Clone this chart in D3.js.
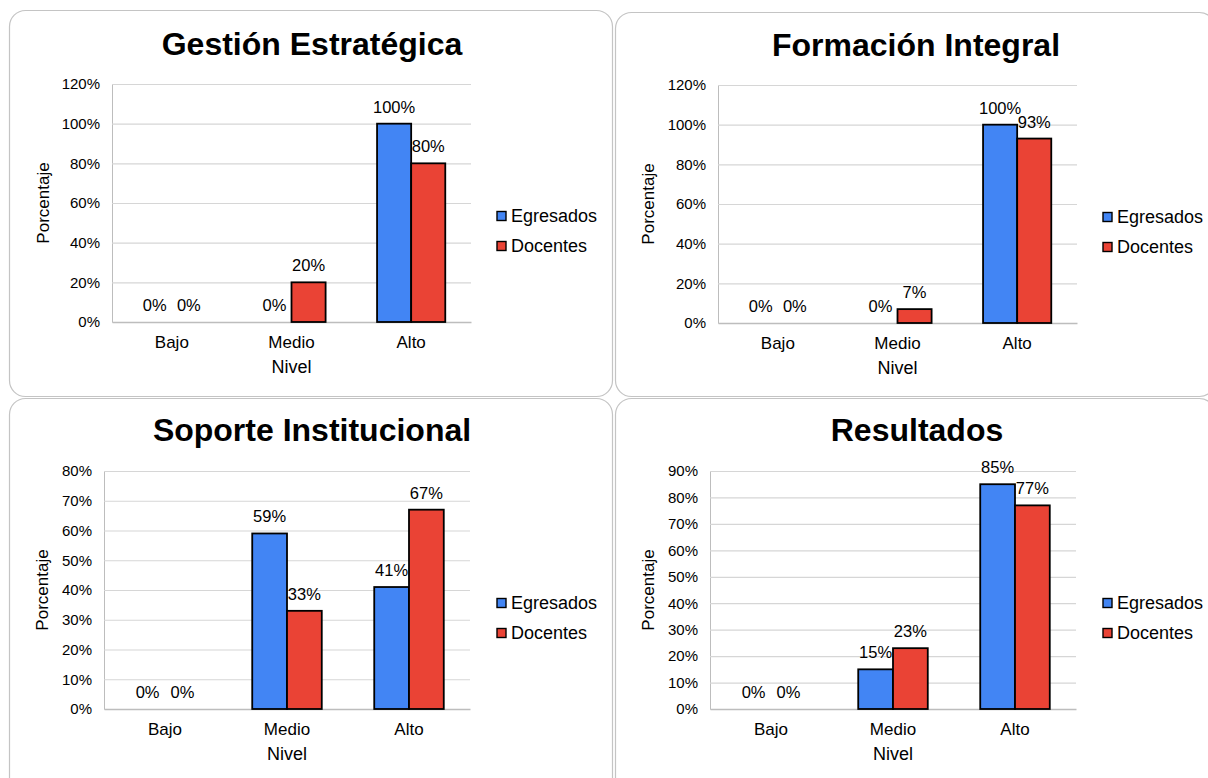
<!DOCTYPE html>
<html>
<head>
<meta charset="utf-8">
<script src="https://cdn.jsdelivr.net/npm/d3@7"></script>
<style>
  html, body { margin: 0; padding: 0; background: #fff; }
  svg { display: block; font-family: "Liberation Sans", Arial, sans-serif; }
</style>
</head>
<body>
<svg id="chart" width="1208" height="778"></svg>
<script>
// ---------- data ----------
const categories = ["Bajo", "Medio", "Alto"];
const seriesNames = ["Egresados", "Docentes"];
const chartTitles = ["Gestión Estratégica", "Formación Integral", "Soporte Institucional", "Resultados"];

const gestionEgresados = [0, 0, 100];
const gestionDocentes = [0, 20, 80];
const formacionEgresados = [0, 0, 100];
const formacionDocentes = [0, 7, 93];
const soporteEgresados = [0, 59, 41];
const soporteDocentes = [0, 33, 67];
const resultadosEgresados = [0, 15, 85];
const resultadosDocentes = [0, 23, 77];

const ticksGestion = [0, 20, 40, 60, 80, 100, 120];
const ticksFormacion = [0, 20, 40, 60, 80, 100, 120];
const ticksSoporte = [0, 10, 20, 30, 40, 50, 60, 70, 80];
const ticksResultados = [0, 10, 20, 30, 40, 50, 60, 70, 80, 90];

const xAxisTitle = "Nivel";
const yAxisTitle = "Porcentaje";

// ---------- layout (positions only) ----------
const layouts = [
  { border: [9.5, 10.5, 603, 386], plot: { l: 112, r: 471, t: 84, b: 322 }, title: [312, 55], legend: [497, 216], ylab: 43 },
  { border: [615.5, 12.5, 600, 384], plot: { l: 718, r: 1077, t: 85, b: 323 }, title: [916, 56], legend: [1103, 217], ylab: 648 },
  { border: [9.5, 398.5, 603, 400], plot: { l: 104, r: 470, t: 471, b: 709 }, title: [312, 441], legend: [497, 603], ylab: 42 },
  { border: [615.5, 398.5, 600, 400], plot: { l: 710, r: 1076, t: 471, b: 709 }, title: [917, 441], legend: [1103, 603], ylab: 648 }
];

const charts = [
  { title: chartTitles[0], values: [gestionEgresados, gestionDocentes], ticks: ticksGestion },
  { title: chartTitles[1], values: [formacionEgresados, formacionDocentes], ticks: ticksFormacion },
  { title: chartTitles[2], values: [soporteEgresados, soporteDocentes], ticks: ticksSoporte },
  { title: chartTitles[3], values: [resultadosEgresados, resultadosDocentes], ticks: ticksResultados }
];

const colors = ["#4285f4", "#ea4335"];
const color = d3.scaleOrdinal().domain(seriesNames).range(colors);

const svg = d3.select("#chart");

charts.forEach((c, i) => {
  const L = layouts[i];
  const g = svg.append("g");

  // panel border
  g.append("rect")
    .attr("x", L.border[0]).attr("y", L.border[1])
    .attr("width", L.border[2]).attr("height", L.border[3])
    .attr("rx", 16).attr("ry", 16)
    .attr("fill", "#fff").attr("stroke", "#c4c4c4").attr("stroke-width", 1.2);

  // title
  g.append("text")
    .attr("x", L.title[0]).attr("y", L.title[1])
    .attr("text-anchor", "middle")
    .attr("font-size", 32).attr("font-weight", "bold").attr("fill", "#000")
    .text(c.title);

  const P = L.plot;
  const x0 = d3.scaleBand().domain(categories).range([P.l, P.r]).paddingInner(0.43).paddingOuter(0.215);
  const x1 = d3.scaleBand().domain(seriesNames).range([0, x0.bandwidth()]);
  const y = d3.scaleLinear().domain([0, d3.max(c.ticks)]).range([P.b, P.t]);

  // y axis with gridlines
  const yAxis = g.append("g")
    .attr("transform", `translate(${P.l},0)`)
    .call(d3.axisLeft(y).tickValues(c.ticks).tickFormat(d => d + "%")
      .tickSize(-(P.r - P.l)).tickPadding(12));
  yAxis.select(".domain").attr("stroke", "#bdbdbd");
  yAxis.selectAll(".tick line").attr("stroke", "#d6d6d6").attr("stroke-width", 1.2);
  yAxis.selectAll(".tick text").attr("font-size", 15).attr("fill", "#000")
    .attr("font-family", "Liberation Sans, Arial, sans-serif");

  // x axis
  const xAxis = g.append("g")
    .attr("transform", `translate(0,${P.b})`)
    .call(d3.axisBottom(x0).tickSize(0).tickPadding(14));
  xAxis.select(".domain").attr("stroke", "#bdbdbd").attr("stroke-width", 1.5);
  xAxis.selectAll(".tick text").attr("font-size", 17).attr("fill", "#000")
    .attr("font-family", "Liberation Sans, Arial, sans-serif");

  // axis titles
  g.append("text")
    .attr("x", (P.l + P.r) / 2).attr("y", P.b + 51)
    .attr("text-anchor", "middle").attr("font-size", 18).attr("fill", "#000")
    .text(xAxisTitle);
  g.append("text")
    .attr("transform", `translate(${L.ylab},${(P.t + P.b) / 2}) rotate(-90)`)
    .attr("text-anchor", "middle").attr("dominant-baseline", "central")
    .attr("font-size", 17).attr("fill", "#000")
    .text(yAxisTitle);

  // bars
  const rows = categories.map((cat, ci) => ({
    cat, items: seriesNames.map((s, si) => ({ s, v: c.values[si][ci] }))
  }));
  const grp = g.selectAll(".grp").data(rows).enter().append("g")
    .attr("transform", d => `translate(${x0(d.cat)},0)`);
  grp.selectAll("rect").data(d => d.items.filter(it => it.v > 0)).enter().append("rect")
    .attr("x", d => x1(d.s)).attr("y", d => y(d.v))
    .attr("width", x1.bandwidth()).attr("height", d => y(0) - y(d.v))
    .attr("fill", d => color(d.s)).attr("stroke", "#000").attr("stroke-width", 1.8);
  grp.selectAll("text").data(d => d.items).enter().append("text")
    .attr("x", d => x1(d.s) + x1.bandwidth() / 2)
    .attr("y", d => y(d.v) - 11)
    .attr("text-anchor", "middle").attr("font-size", 16.5).attr("fill", "#000")
    .text(d => d.v + "%");

  // legend
  const lg = g.append("g").attr("transform", `translate(${L.legend[0]},${L.legend[1]})`);
  seriesNames.forEach((s, si) => {
    lg.append("rect")
      .attr("x", 0).attr("y", si * 30 - 4.5).attr("width", 9).attr("height", 9)
      .attr("fill", color(s)).attr("stroke", "#000").attr("stroke-width", 1.4);
    lg.append("text")
      .attr("x", 14).attr("y", si * 30)
      .attr("dominant-baseline", "central")
      .attr("font-size", 18).attr("fill", "#000")
      .text(s);
  });
});
</script>
</body>
</html>
